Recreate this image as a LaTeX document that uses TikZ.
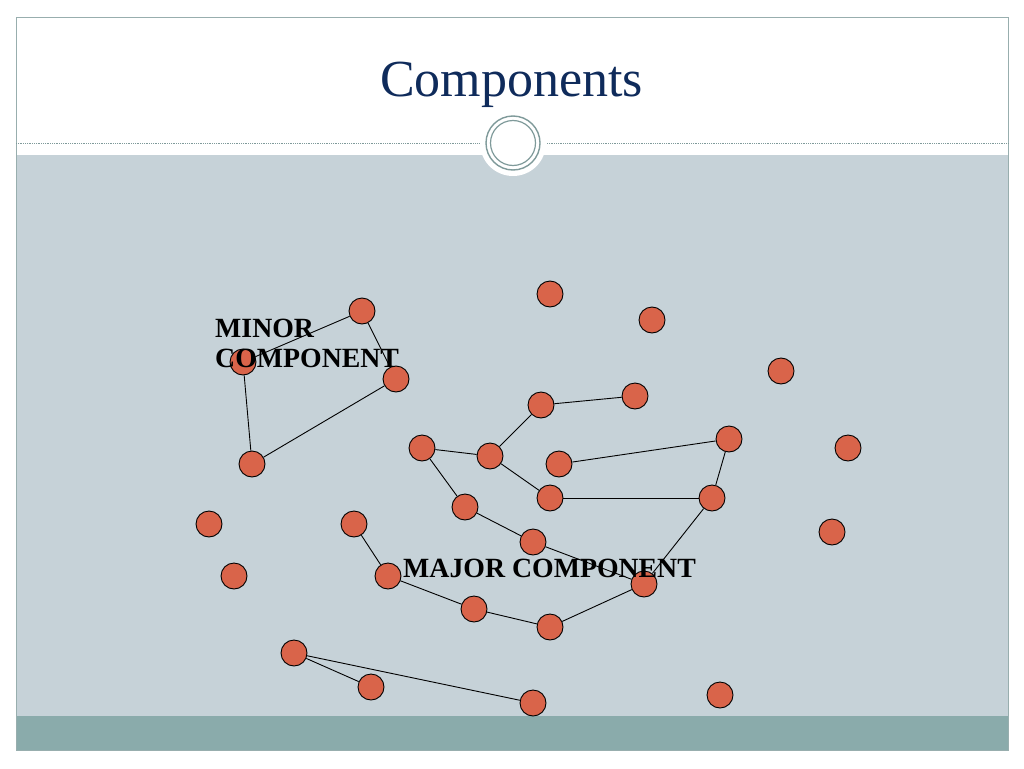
\documentclass[tikz,border=0pt]{standalone}
\usepackage{fontspec}
\setmainfont{Liberation Serif}

\definecolor{panelgray}{HTML}{C6D2D8}
\definecolor{bandteal}{HTML}{8AABAB}
\definecolor{ringgray}{HTML}{7F9A9A}
\definecolor{titleblue}{HTML}{0F2B5B}
\definecolor{vertexred}{HTML}{D9644A}

\tikzset{%
    vertex/.style = {circle, draw = black, line width = 0.9pt,
        fill = vertexred, minimum size = 26pt, inner sep = 0pt},
    edge/.style = {line width = 0.9pt, black},
    label/.style = {font = \fontsize{27.8}{30}\selectfont\bfseries,
        inner sep = 0pt, align = left},
}

\begin{document}
\begin{tikzpicture}[x = 1pt, y = -1pt]
        \useasboundingbox (0, 0) rectangle (1024, 768);
        \fill[white] (0, 0) rectangle (1024, 768);

        % The slide: header, grey panel, teal band and the thin frame.
        \fill[panelgray] (16, 155) rectangle (1008, 716);
        \fill[bandteal] (16, 716) rectangle (1008, 750);
        \draw[ringgray!80, line width = 0.8pt] (16, 17) rectangle (1008, 750);
        \draw[ringgray, densely dotted, line width = 0.8pt] (16, 143) to (1008, 143);
        \fill[white] (513, 143) circle (33);
        \draw[ringgray, line width = 1.4pt] (513, 143) circle (27);
        \draw[ringgray, line width = 1.2pt] (513, 143) circle (22.5);
        \node[font = \fontsize{52}{58}\selectfont, text = titleblue,
            anchor = base] (title) at (511.5, 96) {Components};

        % Vertices of the graph.
        \foreach \name/\x/\y in {%
            min1/362/311, min2/243/362, min3/396/379, min4/252/464,
            maj1/422/448, maj2/490/456, maj3/541/405, maj4/635/396,
            maj5/559/464, maj6/729/439, maj7/550/498, maj8/712/498,
            maj9/465/507, maj10/533/542, maj11/644/584, maj12/354/524,
            maj13/388/576, maj14/474/609, maj15/550/627,
            tri1/294/653, tri2/371/687, tri3/533/703,
            iso1/550/294, iso2/652/320, iso3/781/371, iso4/848/448,
            iso5/832/532, iso6/209/524, iso7/234/576, iso8/720/695}
            \node[vertex] (\name) at (\x, \y) {};

        % Edges of the three components.
        \foreach \a/\b in {%
            min1/min2, min1/min3, min2/min4, min4/min3,
            maj1/maj2, maj2/maj3, maj3/maj4, maj2/maj7, maj7/maj8,
            maj5/maj6, maj6/maj8, maj8/maj11, maj1/maj9, maj9/maj10,
            maj10/maj11, maj11/maj15, maj15/maj14, maj14/maj13,
            maj13/maj12, tri1/tri2, tri1/tri3}
            \draw[edge] (\a) to (\b);

        \node[label, anchor = north west] (minor) at (215, 319)
            {MINOR\\COMPONENT};
        \node[label, anchor = base west] (major) at (403, 577)
            {MAJOR COMPONENT};
    \end{tikzpicture}
\end{document}
